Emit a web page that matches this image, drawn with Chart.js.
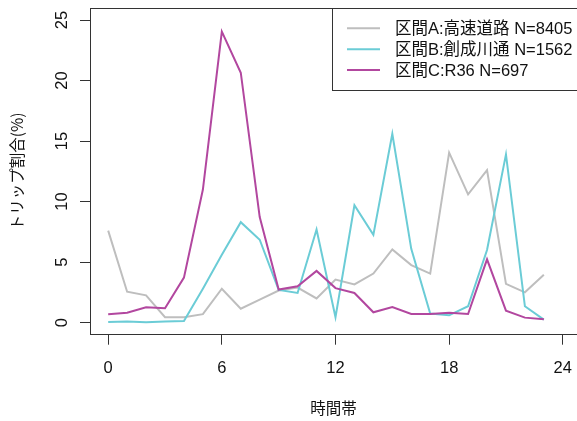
<!DOCTYPE html>
<html>
<head>
<meta charset="utf-8">
<script src="https://cdn.jsdelivr.net/npm/chart.js@4/dist/chart.umd.min.js"></script>
<style>
  html, body { margin: 0; padding: 0; background: #ffffff; overflow: hidden; }
  canvas { display: block; }
</style>
</head>
<body>
<canvas id="chart" width="577" height="421"></canvas>
<script>
// Hour of day (x) and trip share per hour (%) for each road section
const hours = [0, 1, 2, 3, 4, 5, 6, 7, 8, 9, 10, 11, 12, 13, 14, 15, 16, 17, 18, 19, 20, 21, 22, 23];
const seriesNames = ['区間A:高速道路 N=8405', '区間B:創成川通 N=1562', '区間C:R36 N=697'];
const sectionA = [7.6, 2.55, 2.25, 0.45, 0.45, 0.7, 2.8, 1.15, 1.9, 2.65, 2.9, 2.0,
                  3.55, 3.15, 4.05, 6.05, 4.75, 4.05, 14.05, 10.6, 12.6, 3.2, 2.5, 3.95];
const sectionB = [0.05, 0.1, 0.03, 0.1, 0.13, 2.8, 5.6, 8.3, 6.85, 2.7, 2.45, 7.7,
                  0.45, 9.7, 7.25, 15.6, 6.1, 0.75, 0.6, 1.35, 6.0, 13.9, 1.35, 0.25];
const sectionC = [0.7, 0.82, 1.26, 1.18, 3.72, 11.0, 24.05, 20.65, 8.72, 2.73, 3.0, 4.27,
                  2.85, 2.45, 0.85, 1.28, 0.71, 0.71, 0.82, 0.71, 5.23, 0.99, 0.41, 0.27];
const xTicks = [0, 6, 12, 18, 24];
const yTicks = [0, 5, 10, 15, 20, 25];
const xTitle = '時間帯';
const yTitle = 'トリップ割合(%)';

const lineColors = ['#BEBEBE', '#6BCCD6', '#B2479F'];
const FONT = '"Liberation Sans", Arial, "Noto Sans CJK JP", sans-serif';
const CJK_FONT = '"Noto Sans CJK JP", "Liberation Sans", sans-serif';
const AXIS = '#333333';
const TEXT = '#111111';

const seriesValues = [sectionA, sectionB, sectionC];
const datasets = seriesValues.map((vals, i) => ({
  label: seriesNames[i],
  data: hours.map((h, k) => ({ x: h, y: vals[k] })),
  borderColor: lineColors[i],
  backgroundColor: lineColors[i],
  borderWidth: 2,
  pointRadius: 0,
  tension: 0,
  fill: false,
  order: seriesValues.length - 1 - i
}));

// Frame line along the top of the plotting region
const topFrame = {
  id: 'topFrame',
  afterDraw(chart) {
    const { ctx, chartArea: a } = chart;
    ctx.save();
    ctx.strokeStyle = AXIS;
    ctx.lineWidth = 1;
    ctx.beginPath();
    ctx.moveTo(a.left, a.top + 0.5);
    ctx.lineTo(a.right + 5, a.top + 0.5);
    ctx.stroke();
    ctx.restore();
  }
};

// Boxed legend in the upper right corner of the plot
const boxLegend = {
  id: 'boxLegend',
  afterDatasetsDraw(chart) {
    const { ctx, chartArea: a } = chart;
    const left = 332.5, top = a.top + 0.5, height = 82;
    ctx.save();
    ctx.fillStyle = '#ffffff';
    ctx.fillRect(left, top, a.right + 10 - left, height);
    ctx.strokeStyle = AXIS;
    ctx.lineWidth = 1;
    ctx.strokeRect(left, top, a.right + 10 - left, height);
    ctx.font = '16.5px ' + FONT;
    ctx.textBaseline = 'middle';
    ctx.textAlign = 'left';
    chart.data.datasets.forEach((ds, i) => {
      const y = a.top + 20.3 + i * 20.85;
      ctx.strokeStyle = ds.borderColor;
      ctx.lineWidth = 2;
      ctx.beginPath();
      ctx.moveTo(347, y);
      ctx.lineTo(380, y);
      ctx.stroke();
      ctx.fillStyle = TEXT;
      ctx.fillText(ds.label, 395, y + 1.2);
    });
    ctx.restore();
  }
};

new Chart(document.getElementById('chart'), {
  type: 'line',
  data: { datasets },
  plugins: [topFrame, boxLegend],
  options: {
    responsive: false,
    devicePixelRatio: 1,
    animation: false,
    layout: { padding: { top: 8, left: 0, right: 0, bottom: 0 } },
    plugins: { legend: { display: false }, tooltip: { enabled: false } },
    scales: {
      x: {
        type: 'linear',
        min: -0.96,
        max: 24.75,
        afterBuildTicks: s => { s.ticks = xTicks.map(v => ({ value: v })); },
        afterFit: s => { s.height = 86.3; s.paddingLeft = 0; s.paddingRight = 0; },
        grid: { drawOnChartArea: false, drawTicks: true, tickLength: 10, tickColor: AXIS, tickWidth: 1 },
        border: { display: true, color: AXIS, width: 1 },
        ticks: { font: { family: FONT, size: 16.5 }, color: TEXT, padding: 14, maxRotation: 0, autoSkip: false },
        title: { display: true, text: xTitle, color: TEXT, font: { family: CJK_FONT, size: 15.5 }, padding: { top: 0, bottom: 3.7 } }
      },
      y: {
        type: 'linear',
        min: -1,
        max: 26,
        afterBuildTicks: s => { s.ticks = yTicks.map(v => ({ value: v })); },
        afterFit: s => { s.width = 90; s.paddingTop = 0; s.paddingBottom = 0; },
        grid: { drawOnChartArea: false, drawTicks: true, tickLength: 10, tickColor: AXIS, tickWidth: 1 },
        border: { display: true, color: AXIS, width: 1 },
        ticks: { font: { family: FONT, size: 16.5 }, color: TEXT, padding: 8, minRotation: 90, maxRotation: 90, crossAlign: 'center', autoSkip: false },
        title: { display: true, text: yTitle, color: TEXT, font: { family: CJK_FONT, size: 15.5 }, padding: { top: 8, bottom: 0 } }
      }
    }
  }
});
</script>
</body>
</html>
